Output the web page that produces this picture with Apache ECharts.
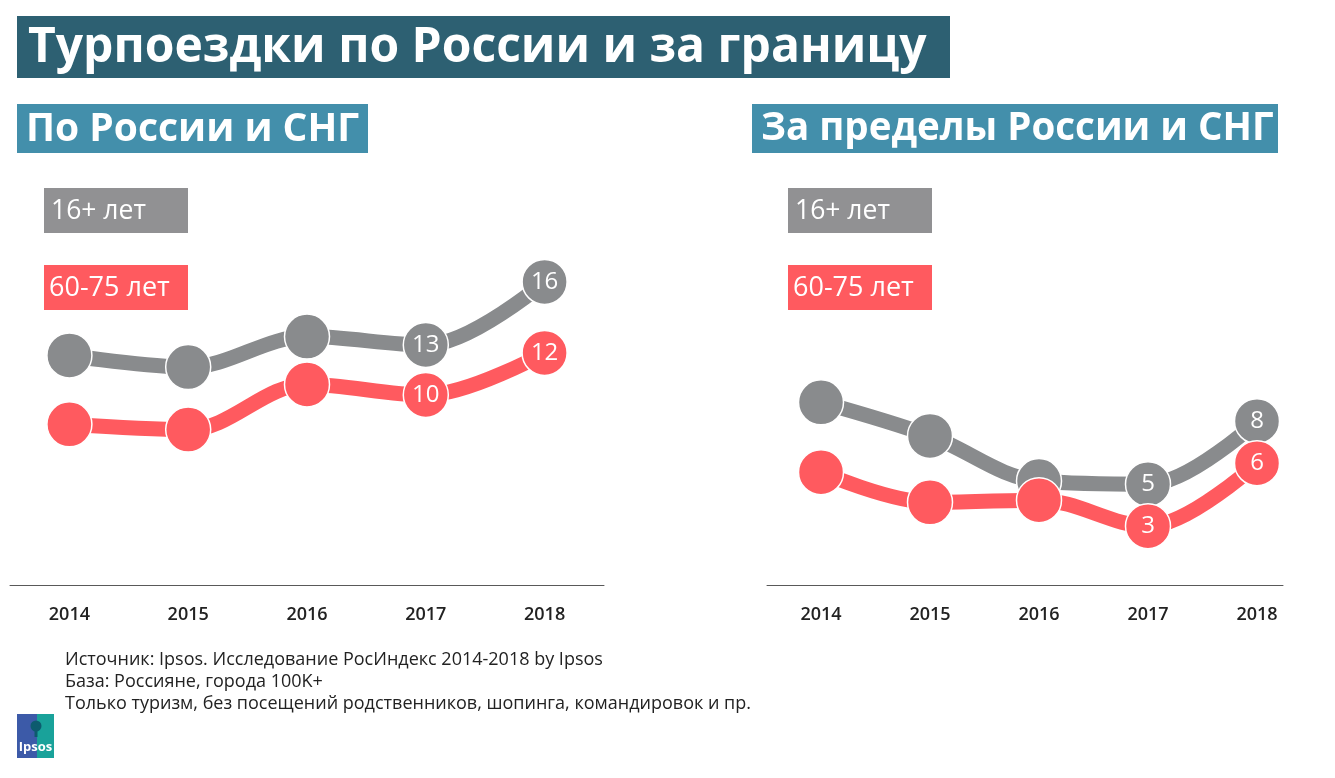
<!DOCTYPE html>
<html>
<head>
<meta charset="utf-8">
<script src="https://cdn.jsdelivr.net/npm/echarts@6/dist/echarts.min.js"></script>
<style>
html,body{margin:0;padding:0;background:#fff;}
#chart{width:1335px;height:778px;}
</style>
</head>
<body>
<div id="chart"></div>
<script>
// ---- data ----
var years = ['2014', '2015', '2016', '2017', '2018'];
// По России и СНГ
var domesticAll = [12.5, 11.95, 13.4, 13, 16];
var domesticSenior = [8.6, 8.35, 10.5, 10, 12];
var domesticAllLabels = ['', '', '', '13', '16'];
var domesticSeniorLabels = ['', '', '', '10', '12'];
// За пределы России и СНГ
var abroadAll = [8.9, 7.3, 5.15, 5, 8];
var abroadSenior = [5.57, 4.14, 4.24, 3, 6];
var abroadAllLabels = ['', '', '', '5', '8'];
var abroadSeniorLabels = ['', '', '', '3', '6'];
// texts
var mainTitle = 'Турпоездки по России и за границу';
var leftTitle = 'По России и СНГ';
var rightTitle = 'За пределы России и СНГ';
var seriesNames = ['16+ лет', '60-75 лет'];
var footnotes = [
  'Источник: Ipsos. Исследование РосИндекс 2014-2018 by Ipsos',
  'База: Россияне, города 100K+',
  'Только туризм, без посещений родственников, шопинга, командировок и пр.'
];

var FONT = '"Open Sans", "Noto Sans", sans-serif';
var GRAY = '#898b8d';
var RED = '#ff5a5f';

function lineSeries(name, data, labels, color, xi, yi) {
  return {
    type: 'line',
    name: name,
    xAxisIndex: xi,
    yAxisIndex: yi,
    data: data,
    smooth: 0.35,
    symbol: 'circle',
    symbolSize: 45,
    lineStyle: { color: color, width: 15 },
    itemStyle: { color: color, borderColor: '#fff', borderWidth: 1.5 },
    label: {
      show: true,
      position: 'inside',
      color: '#fff',
      fontSize: 24,
      fontFamily: FONT,
      formatter: function (p) { return labels[p.dataIndex]; }
    },
    emphasis: { disabled: true },
    silent: true,
    z: 2
  };
}

function box(x, y, w, h, fill, text, fontSize, fontWeight, textX) {
  return {
    type: 'group',
    children: [
      { type: 'rect', shape: { x: x, y: y, width: w, height: h }, style: { fill: fill } },
      { type: 'text', x: x + textX, y: y + h / 2 + 1, style: {
          text: text, fill: '#fff', font: fontWeight + ' ' + fontSize + 'px ' + FONT,
          verticalAlign: 'middle' } }
    ]
  };
}

var xLabel = { fontSize: 18, fontWeight: 600, color: '#222', fontFamily: FONT, margin: 21 };

var chart = echarts.init(document.getElementById('chart'));
var option = {
  backgroundColor: '#fff',
  animation: false,
  grid: [
    { left: 10, right: 731, top: 165, bottom: 193 },
    { left: 766.5, right: 23.5, top: 165, bottom: 193 },
    { left: 767, right: 52, top: 165, bottom: 193 }
  ],
  xAxis: [
    { type: 'category', gridIndex: 0, data: years, boundaryGap: true,
      axisLine: { lineStyle: { color: '#595959', width: 1 } }, axisTick: { show: false },
      axisLabel: xLabel, splitLine: { show: false } },
    { type: 'category', gridIndex: 1, data: years, boundaryGap: true,
      axisLine: { show: false }, axisTick: { show: false },
      axisLabel: xLabel, splitLine: { show: false } },
    { type: 'category', gridIndex: 2, data: years, boundaryGap: true,
      axisLine: { lineStyle: { color: '#595959', width: 1 } }, axisTick: { show: false },
      axisLabel: { show: false }, splitLine: { show: false } }
  ],
  yAxis: [
    { type: 'value', gridIndex: 0, min: 1.57, max: 21.57, show: false },
    { type: 'value', gridIndex: 0, min: 0.95, max: 20.95, show: false },
    { type: 'value', gridIndex: 1, min: 0.2, max: 20.2, show: false },
    { type: 'value', gridIndex: 2, min: 0, max: 1, show: false }
  ],
  series: [
    lineSeries(seriesNames[0], domesticAll, domesticAllLabels, GRAY, 0, 0),
    lineSeries(seriesNames[1], domesticSenior, domesticSeniorLabels, RED, 0, 1),
    lineSeries(seriesNames[0], abroadAll, abroadAllLabels, GRAY, 1, 2),
    lineSeries(seriesNames[1], abroadSenior, abroadSeniorLabels, RED, 1, 2)
  ],
  graphic: [
    box(17, 16, 933, 62, '#2d6072', mainTitle, 48, 'bold', 11),
    box(17, 104, 351, 49, '#438fab', leftTitle, 39, 'bold', 9),
    box(752, 104, 526, 49, '#438fab', rightTitle, 38.5, 'bold', 9),
    box(44, 188, 144, 45, '#919193', seriesNames[0], 26.5, 'normal', 7),
    box(44, 265, 144, 45, RED, seriesNames[1], 27, 'normal', 5),
    box(788, 188, 144, 45, '#919193', seriesNames[0], 26.5, 'normal', 7),
    box(788, 265, 144, 45, RED, seriesNames[1], 27, 'normal', 5),
    { type: 'text', x: 65, y: 660, style: { text: footnotes[0], fill: '#222', font: '18px ' + FONT, verticalAlign: 'middle' } },
    { type: 'text', x: 65, y: 682, style: { text: footnotes[1], fill: '#222', font: '18px ' + FONT, verticalAlign: 'middle' } },
    { type: 'text', x: 65, y: 704, style: { text: footnotes[2], fill: '#222', font: '18px ' + FONT, verticalAlign: 'middle' } },
    // Ipsos logo
    { type: 'rect', shape: { x: 17, y: 714, width: 20, height: 44 }, style: { fill: '#3c5aa8' } },
    { type: 'rect', shape: { x: 37, y: 714, width: 17, height: 44 }, style: { fill: '#19a29a' } },
    { type: 'circle', shape: { cx: 36, cy: 726, r: 5.5 }, style: { fill: '#0d5b6e' } },
    { type: 'rect', shape: { x: 34.5, y: 730, width: 3, height: 7 }, style: { fill: '#0d5b6e' } },
    { type: 'text', x: 35.5, y: 747, style: { text: 'Ipsos', fill: '#fff', font: 'bold 13px ' + FONT, align: 'center', verticalAlign: 'middle' } }
  ]
};
chart.setOption(option);
</script>
</body>
</html>
